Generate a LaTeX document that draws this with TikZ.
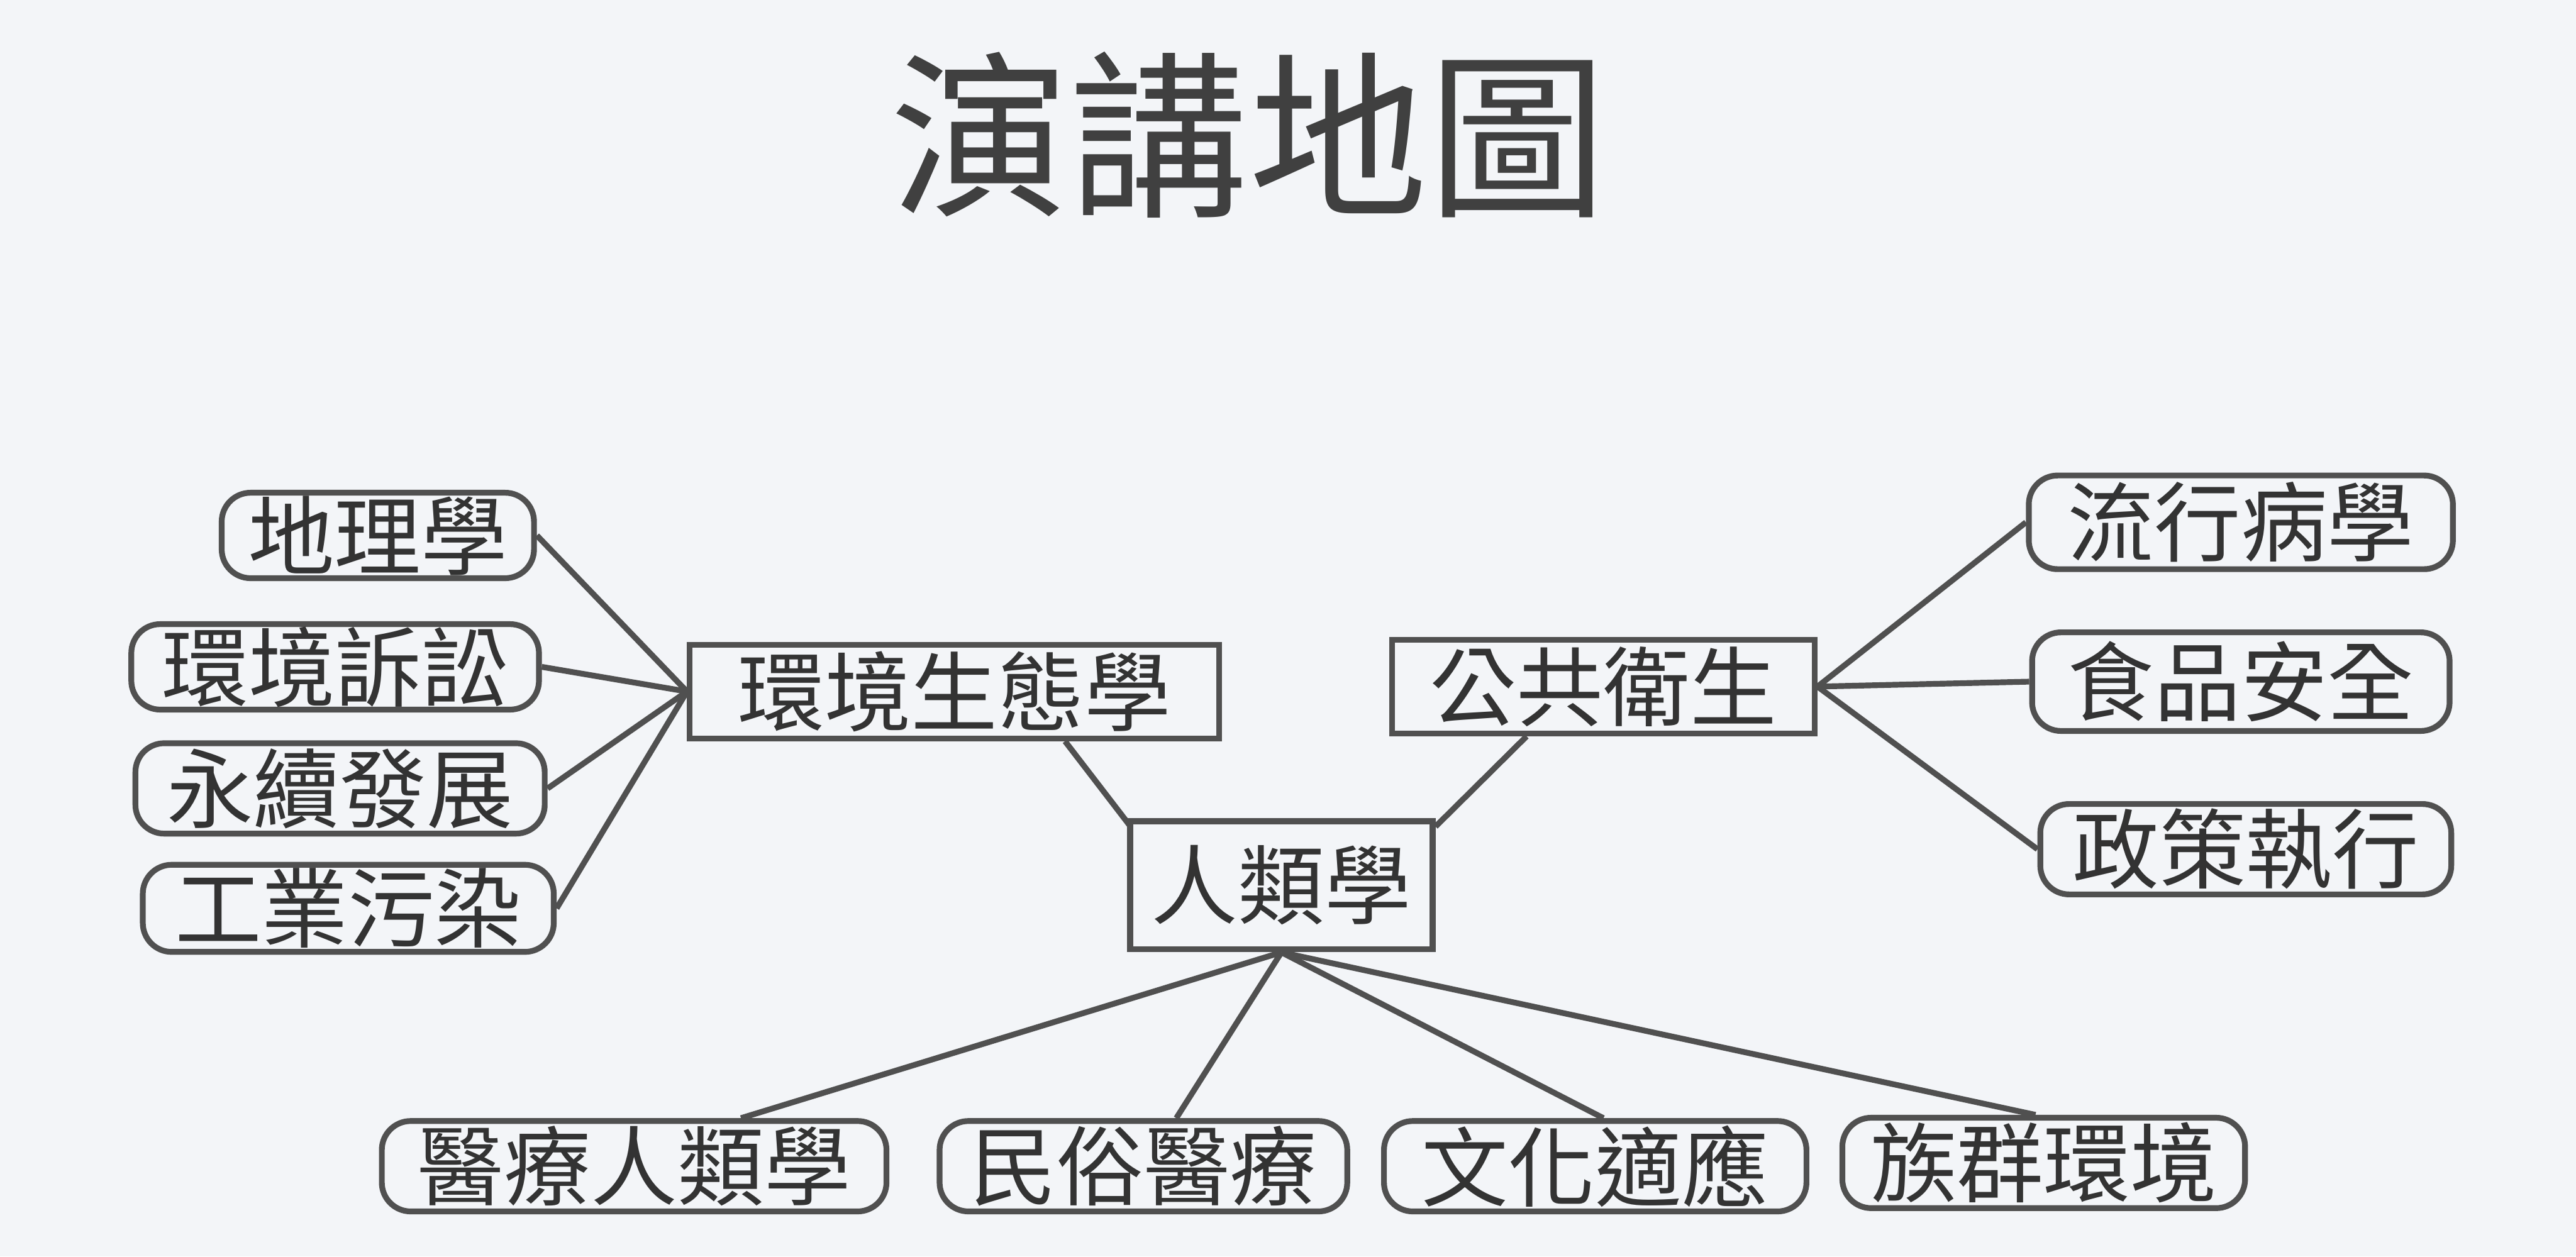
\documentclass[tikz,border=0pt]{standalone}
\usepackage{fontspec}
\newfontfamily\cjk{Noto Sans CJK TC}
\definecolor{bg}{HTML}{F3F5F8}
\definecolor{ln}{HTML}{505050}
\begin{document}
\begin{tikzpicture}[x=0.01cm,y=-0.01cm,
  leaf/.style={draw=ln,line width=1pt,rounded corners=5pt,inner sep=0pt,font=\cjk\fontsize{15}{15}\selectfont,text=black!80},
  hub/.style={draw=ln,line width=1pt,inner sep=0pt,font=\cjk\fontsize{15}{15}\selectfont,text=black!80},
  conn/.style={draw=ln,line width=1pt}]
\fill[bg] (0,0) rectangle (1568,765);
\useasboundingbox (0,0) rectangle (1568,765);
\node[font=\cjk\fontsize{31}{31}\selectfont,text=black!75] (title) at (760,82) {演講地圖};
\node[leaf,minimum width=1.90cm,minimum height=0.52cm] (a1) at (230,326) {地理學};
\node[leaf,minimum width=2.48cm,minimum height=0.52cm] (a2) at (204,406) {環境訴訟};
\node[leaf,minimum width=2.49cm,minimum height=0.55cm] (a3) at (207,480) {永續發展};
\node[leaf,minimum width=2.50cm,minimum height=0.53cm] (a4) at (212,553) {工業污染};
\node[hub,minimum width=3.22cm,minimum height=0.57cm] (env) at (581,421) {環境生態學};
\node[hub,minimum width=2.57cm,minimum height=0.57cm] (ph) at (976,418) {公共衛生};
\node[leaf,minimum width=2.58cm,minimum height=0.57cm] (b1) at (1364,318) {流行病學};
\node[leaf,minimum width=2.54cm,minimum height=0.60cm] (b2) at (1364,415) {食品安全};
\node[leaf,minimum width=2.50cm,minimum height=0.55cm] (b3) at (1367,517) {政策執行};
\node[hub,minimum width=1.84cm,minimum height=0.78cm] (anth) at (780,539) {人類學};
\node[leaf,minimum width=3.07cm,minimum height=0.55cm] (c1) at (386,710) {醫療人類學};
\node[leaf,minimum width=2.48cm,minimum height=0.55cm] (c2) at (696,710) {民俗醫療};
\node[leaf,minimum width=2.57cm,minimum height=0.55cm] (c3) at (971,710) {文化適應};
\node[leaf,minimum width=2.45cm,minimum height=0.55cm] (c4) at (1244,708) {族群環境};
\foreach \n in {a1,a2,a3,a4} \draw[conn] (\n.east) -- (env.west);
\foreach \n in {b1,b2,b3} \draw[conn] (ph.east) -- (\n.west);
\draw[conn] ([xshift=2.30cm]env.south west) -- ([xshift=0.02cm,yshift=-0.05cm]anth.north west);
\draw[conn] ([xshift=-1.77cm]ph.south east) -- ([yshift=-0.05cm]anth.north east);
\draw[conn] (anth.south) -- ([xshift=0.65cm]c1.north);
\draw[conn] (anth.south) -- ([xshift=0.20cm]c2.north);
\draw[conn] (anth.south) -- ([xshift=0.05cm]c3.north);
\draw[conn] (anth.south) -- ([xshift=-0.05cm]c4.north);
\end{tikzpicture}
\end{document}
